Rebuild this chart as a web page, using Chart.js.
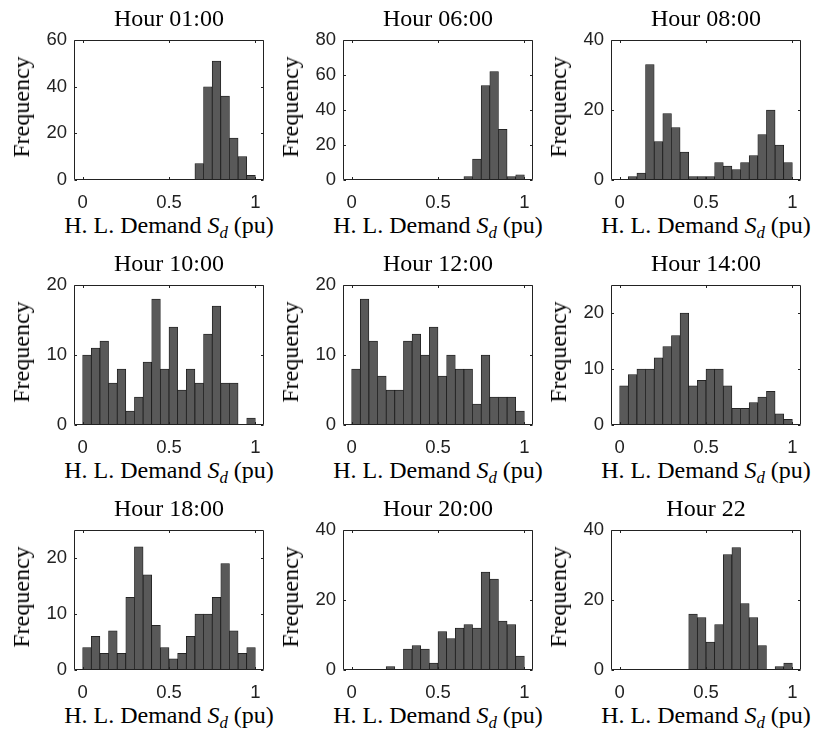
<!DOCTYPE html>
<html>
<head>
<meta charset="utf-8">
<title>H. L. Demand histograms</title>
<script src="https://cdn.jsdelivr.net/npm/chart.js@4/dist/chart.umd.min.js"></script>
<style>
  html, body { margin: 0; padding: 0; background: #fff; }
  #fig { position: relative; width: 823px; height: 731px; overflow: hidden; background: #fff; }
  #fig canvas { position: absolute; }
  .lbl { position: absolute; font-family: "Liberation Serif", "Times New Roman", serif; color: #000;
         white-space: nowrap; line-height: 1; }
  .sub { font-style: italic; font-size: 0.7em; vertical-align: -0.28em; }
</style>
</head>
<body>
<div id="fig"></div>
<script>
// ******************************************************** DATA

// centres of the 20 bins (0.05 pu wide)
var binCenters = [0.025, 0.075, 0.125, 0.175, 0.225, 0.275, 0.325, 0.375, 0.425, 0.475,
                  0.525, 0.575, 0.625, 0.675, 0.725, 0.775, 0.825, 0.875, 0.925, 0.975];
var xTicks = [0, 0.5, 1];

// counts per bin
var hour01 = [0, 0, 0, 0, 0, 0, 0, 0, 0, 0, 0, 0, 0, 7, 40, 51, 36, 18, 10, 2];
var hour06 = [0, 0, 0, 0, 0, 0, 0, 0, 0, 0, 0, 0, 0, 2, 12, 54, 62, 29, 2, 3];
var hour08 = [0, 1, 2, 33, 11, 19, 15, 8, 1, 1, 1, 5, 4, 3, 5, 7, 13, 20, 10, 5];
var hour10 = [10, 11, 12, 6, 8, 2, 4, 9, 18, 8, 14, 5, 8, 6, 13, 17, 6, 6, 0, 1];
var hour12 = [8, 18, 12, 7, 5, 5, 12, 13, 10, 14, 7, 10, 8, 8, 3, 10, 4, 4, 4, 2];
var hour14 = [7, 9, 10, 10, 12, 14, 16, 20, 7, 8, 10, 10, 7, 3, 3, 4, 5, 6, 2, 1];
var hour18 = [4, 6, 3, 7, 3, 13, 22, 17, 8, 4, 2, 3, 6, 10, 10, 13, 19, 7, 3, 4];
var hour20 = [0, 0, 0, 0, 1, 0, 6, 7, 6, 2, 11, 9, 12, 13, 12, 28, 26, 14, 13, 4];
var hour22 = [0, 0, 0, 0, 0, 0, 0, 0, 16, 15, 8, 13, 33, 35, 19, 15, 7, 0, 1, 2];

var panelTitles = ['Hour 01:00', 'Hour 06:00', 'Hour 08:00',
                   'Hour 10:00', 'Hour 12:00', 'Hour 14:00',
                   'Hour 18:00', 'Hour 20:00', 'Hour 22'];
var panelCounts = [hour01, hour06, hour08, hour10, hour12, hour14, hour18, hour20, hour22];
var yMax   = [60, 80, 40, 20, 20, 25, 25, 40, 40];
var yTicks = [[0, 20, 40, 60], [0, 20, 40, 60, 80], [0, 20, 40],
              [0, 10, 20], [0, 10, 20], [0, 10, 20],
              [0, 10, 20], [0, 20, 40], [0, 20, 40]];

// ******************************************************** LAYOUT

var colLeft = [74, 343, 611];
var rowTop  = [34, 279, 524];
var plotW = 190, plotH = 146;
var padL = 50, padT = 12, padR = 12, padB = 30;
var serifSize = 24;
var tickFont = { family: '"Liberation Sans", Arial, sans-serif', size: 18.5 };
var axisColor = '#222';

// axes box with inward tick marks on all four sides
var axesBox = {
  id: 'axesBox',
  afterDatasetsDraw: function (chart) {
    var ctx = chart.ctx, a = chart.chartArea, sx = chart.scales.x, sy = chart.scales.y;
    var L = Math.round(a.left) + 0.5, R = Math.round(a.right) - 0.5;
    var T = Math.round(a.top) + 0.5, B = Math.round(a.bottom) - 0.5;
    var tl = 2.5;
    ctx.save();
    ctx.strokeStyle = axisColor;
    ctx.lineWidth = 1;
    ctx.beginPath();
    ctx.rect(L, T, R - L, B - T);
    sx.ticks.forEach(function (t) {
      var px = Math.round(sx.getPixelForValue(t.value)) + 0.5;
      ctx.moveTo(px, B); ctx.lineTo(px, B - tl);
      ctx.moveTo(px, T); ctx.lineTo(px, T + tl);
    });
    sy.ticks.forEach(function (t) {
      var py = Math.round(sy.getPixelForValue(t.value)) + 0.5;
      ctx.moveTo(L, py); ctx.lineTo(L + tl, py);
      ctx.moveTo(R, py); ctx.lineTo(R - tl, py);
    });
    ctx.stroke();
    ctx.restore();
  }
};

function addLabel(html, cx, baseline, extra) {
  var d = document.createElement('div');
  d.className = 'lbl';
  d.innerHTML = html;
  d.style.fontSize = serifSize + 'px';
  d.style.left = cx + 'px';
  d.style.top = (baseline - 0.8375 * serifSize) + 'px';
  d.style.transform = 'translateX(-50%)';
  if (extra) extra(d);
  document.getElementById('fig').appendChild(d);
  return d;
}

// ******************************************************** CHARTS

var fig = document.getElementById('fig');

panelCounts.forEach(function (counts, i) {
  var col = i % 3, row = Math.floor(i / 3);
  var left = colLeft[col], top = rowTop[row];

  var cv = document.createElement('canvas');
  cv.width = padL + plotW + padR;
  cv.height = padT + plotH + padB;
  cv.style.left = (left - padL) + 'px';
  cv.style.top = (top - padT) + 'px';
  fig.appendChild(cv);

  new Chart(cv.getContext('2d'), {
    type: 'bar',
    data: {
      datasets: [{
        data: binCenters.map(function (x, k) { return { x: x, y: counts[k] }; }),
        backgroundColor: '#595959',
        borderColor: '#151515',
        borderWidth: 0.75,
        borderSkipped: false,
        barPercentage: 1,
        categoryPercentage: 1
      }]
    },
    options: {
      responsive: false,
      animation: false,
      devicePixelRatio: 1,
      layout: { padding: { left: 0, top: padT, right: padR, bottom: 0 } },
      plugins: { legend: { display: false }, tooltip: { enabled: false }, title: { display: false } },
      scales: {
        x: {
          type: 'linear', min: -0.05, max: 1.05, offset: false,
          grid: { display: false, drawTicks: false },
          border: { display: false },
          afterBuildTicks: function (s) { s.ticks = xTicks.map(function (v) { return { value: v }; }); },
          afterFit: function (s) { s.height = padB; },
          ticks: { padding: 12, font: tickFont, color: axisColor, maxRotation: 0, autoSkip: false,
                   callback: function (v) { return String(v); } }
        },
        y: {
          min: 0, max: yMax[i],
          grid: { display: false, drawTicks: false },
          border: { display: false },
          afterBuildTicks: function (s) { s.ticks = yTicks[i].map(function (v) { return { value: v }; }); },
          afterFit: function (s) { s.width = padL; },
          ticks: { padding: 7, font: tickFont, color: axisColor, autoSkip: false,
                   callback: function (v) { return String(v); } }
        }
      }
    },
    plugins: [axesBox]
  });

  var cx = left + plotW / 2;
  addLabel(panelTitles[i], cx, top - 8);
  addLabel('H. L. Demand <i>S</i><span class="sub">d</span> (pu)', cx, top + plotH + 53);
  addLabel('Frequency', left - 53, top + plotH / 2, function (d) {
    d.style.top = (top + plotH / 2) + 'px';
    d.style.transform = 'translate(-50%, -50%) rotate(-90deg)';
  });
});
</script>
</body>
</html>
